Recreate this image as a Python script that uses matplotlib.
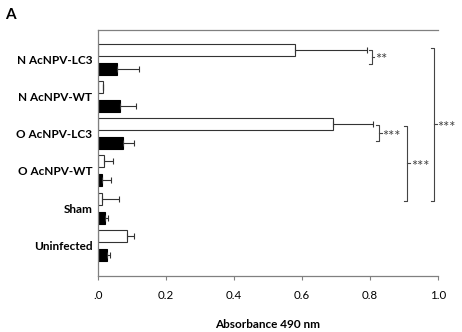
import matplotlib
matplotlib.use("Agg")
import matplotlib.pyplot as plt
import numpy as np

# groups, top to bottom
groups = ["N AcNPV-LC3", "N AcNPV-WT", "O AcNPV-LC3", "O AcNPV-WT", "Sham", "Uninfected"]
white_vals = [0.58, 0.016, 0.69, 0.018, 0.011, 0.086]
white_err = [0.21, 0.0, 0.12, 0.027, 0.051, 0.021]
black_vals = [0.056, 0.065, 0.074, 0.012, 0.020, 0.026]
black_err = [0.064, 0.046, 0.031, 0.026, 0.011, 0.009]
xticks = [0.0, 0.2, 0.4, 0.6, 0.8, 1.0]
xtick_labels = [".0", "0.2", "0.4", "0.6", "0.8", "1.0"]

# significance brackets: (y start, y end, x, label)
brackets = [
    (-0.255, 0.12, 0.805, "**"),
    (1.76, 2.19, 0.826, "***"),
    (1.79, 3.80, 0.909, "***"),
    (-0.31, 3.80, 0.988, "***"),
]

plt.rcParams['font.family'] = ['Lato', 'DejaVu Sans']

fig = plt.figure(figsize=(4.62, 3.32), dpi=100)
ax = fig.add_axes([0.212, 0.169, 0.736, 0.741])

y = np.arange(len(groups))
off = 0.255
h = 0.32
err_kw = dict(ecolor="#333333", elinewidth=0.8, capsize=2.5, capthick=0.8)

ax.barh(y - off, white_vals, height=h, color="white", edgecolor="#333333", linewidth=0.8,
        xerr=[np.zeros(len(groups)), white_err], error_kw=err_kw)
ax.barh(y + off, black_vals, height=h, color="black", edgecolor="black", linewidth=0.8,
        xerr=[np.zeros(len(groups)), black_err], error_kw=err_kw)

ax.set_xlim(0, 1.0)
ax.set_ylim(5.82, -0.79)
ax.set_yticks(y)
ax.set_yticklabels(groups, fontweight="bold", fontsize=8.5)
ax.set_xticks(xticks)
ax.set_xticklabels(xtick_labels, fontsize=8.3)
ax.tick_params(axis="y", length=0, pad=4)
ax.tick_params(axis="x", length=3, width=0.8, color="#808080", pad=7)

for s in ["left", "bottom", "top"]:
    ax.spines[s].set_color("#808080")
    ax.spines[s].set_linewidth(0.9)
ax.spines["right"].set_visible(False)

ax.set_xlabel("Absorbance 490 nm", fontweight="bold", fontsize=8.5, labelpad=13)

# brackets
for y0, y1, x, lab in brackets:
    t = 0.008
    ym = (y0 + y1) / 2
    ax.plot([x - t, x, x, x - t], [y0, y0, y1, y1], color="#444444", lw=0.8, clip_on=False)
    ax.plot([x, x + t], [ym, ym], color="#444444", lw=0.8, clip_on=False)
    ax.text(x + t + 0.003, ym + 0.1, lab, fontsize=10.5, color="#444444", va="center", ha="left",
            clip_on=False)

fig.text(0.012, 0.975, "A", fontsize=11, fontweight="bold", va="top", ha="left")

fig.savefig("out.png", dpi=100)
